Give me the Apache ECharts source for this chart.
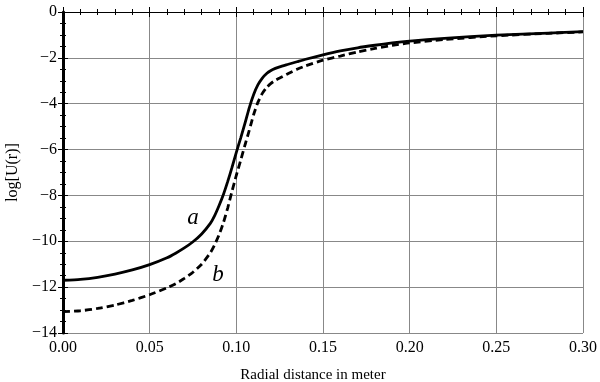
<!DOCTYPE html>
<html>
<head>
<meta charset="utf-8">
<script src="https://cdn.jsdelivr.net/npm/echarts@6/dist/echarts.min.js"></script>
<style>
  html, body { margin: 0; padding: 0; background: #fff; }
  #chart { width: 600px; height: 382px; }
</style>
</head>
<body>
<div id="chart"></div>
<script>
// radial distance (m)
const rA = [0, 0.01, 0.02, 0.03, 0.04, 0.05, 0.06, 0.065, 0.07, 0.075, 0.08, 0.085, 0.0875, 0.09, 0.0925,
  0.095, 0.0975, 0.10, 0.1025, 0.105, 0.1075, 0.11, 0.1125, 0.115, 0.1175, 0.12, 0.1225, 0.125, 0.13,
  0.135, 0.14, 0.15, 0.16, 0.17, 0.18, 0.19, 0.20, 0.22, 0.25, 0.28, 0.30];
// curve a (solid)
const logUa = [-11.70, -11.66, -11.57, -11.43, -11.25, -11.02, -10.72, -10.52, -10.29, -10.02, -9.68, -9.22, -8.88, -8.45, -7.97,
  -7.4, -6.78, -6.12, -5.5, -4.85, -4.17, -3.6, -3.17, -2.88, -2.68, -2.55, -2.46, -2.39, -2.28,
  -2.17, -2.06, -1.87, -1.70, -1.56, -1.45, -1.35, -1.27, -1.15, -1.01, -0.92, -0.86];
// curve b (dashed)
const logUb = [-13.07, -13.03, -12.93, -12.78, -12.58, -12.33, -12.03, -11.85, -11.62, -11.35, -11.0, -10.5, -10.15, -9.72, -9.2,
  -8.55, -7.82, -7.12, -6.47, -5.8, -5.15, -4.47, -3.93, -3.55, -3.29, -3.11, -2.98, -2.88, -2.68,
  -2.5, -2.35, -2.1, -1.92, -1.74, -1.59, -1.46, -1.35, -1.20, -1.04, -0.93, -0.87];
// curve labels [x, y, text]
const curveLabels = [[0.075, -8.98, 'a'], [0.0894, -11.47, 'b']];

const serif = 'Liberation Serif';
const myChart = echarts.init(document.getElementById('chart'));

function pairs(xs, ys) {
  return xs.map((x, i) => [x, ys[i]]);
}

const tickStyle = { show: true, inside: true, length: 5, lineStyle: { color: '#000', width: 1 } };
const minorStyle = { show: true, length: 3, lineStyle: { color: '#000', width: 1 } };

myChart.setOption({
  animation: false,
  grid: { left: 63, right: 17, top: 12, bottom: 49, containLabel: false, outerBoundsMode: 'none' },
  xAxis: [
    {
      type: 'value', min: 0, max: 0.3, interval: 0.05,
      name: 'Radial distance in meter',
      nameLocation: 'middle', nameGap: 35,
      nameTextStyle: { fontFamily: serif, fontSize: 15, color: '#000', padding: [0, 20, 0, 0] },
      axisLine: { lineStyle: { color: '#000', width: 1 } },
      axisTick: tickStyle,
      minorTick: Object.assign({ splitNumber: 5 }, minorStyle),
      axisLabel: {
        fontFamily: serif, fontSize: 16, color: '#000', margin: 7,
        formatter: (v) => v.toFixed(2)
      },
      splitLine: { show: true, lineStyle: { color: '#888', width: 1 } }
    },
    {
      type: 'value', min: 0, max: 0.3, interval: 0.05, position: 'top',
      axisLine: { lineStyle: { color: '#000', width: 1 } },
      axisTick: tickStyle,
      minorTick: Object.assign({ splitNumber: 5 }, minorStyle),
      axisLabel: { show: false },
      splitLine: { show: false }
    }
  ],
  yAxis: [
    {
      type: 'value', min: -14, max: 0, interval: 2,
      name: 'log[U(r)]',
      nameLocation: 'middle', nameGap: 42,
      nameTextStyle: { fontFamily: serif, fontSize: 16, color: '#000' },
      axisLine: { show: true, lineStyle: { color: '#000', width: 1 } },
      axisTick: tickStyle,
      minorTick: Object.assign({ splitNumber: 4 }, minorStyle),
      axisLabel: {
        fontFamily: serif, fontSize: 16, color: '#000', margin: 6,
        formatter: (v) => String(v).replace('-', '\u2212')
      },
      splitLine: { show: true, lineStyle: { color: '#888', width: 1 } }
    },
    {
      type: 'value', min: -14, max: 0, interval: 2, position: 'right',
      axisLine: { show: true, lineStyle: { color: '#000', width: 3 } },
      axisTick: tickStyle,
      minorTick: Object.assign({ splitNumber: 4 }, minorStyle),
      axisLabel: { show: false },
      splitLine: { show: false }
    }
  ],
  series: [
    {
      name: 'a', type: 'line', smooth: 0.2, showSymbol: false,
      data: pairs(rA, logUa),
      lineStyle: { color: '#000', width: 2.8 },
      markPoint: {
        symbol: 'circle', symbolSize: 0,
        label: {
          show: true, position: 'inside', formatter: (p) => p.name,
          fontFamily: serif, fontStyle: 'italic', fontSize: 23, color: '#000'
        },
        data: curveLabels.map((c) => ({ name: c[2], coord: [c[0], c[1]] }))
      }
    },
    {
      name: 'b', type: 'line', smooth: 0.2, showSymbol: false,
      data: pairs(rA, logUb),
      lineStyle: { color: '#000', width: 2.8, type: [7, 4] }
    }
  ]
});
</script>
</body>
</html>
